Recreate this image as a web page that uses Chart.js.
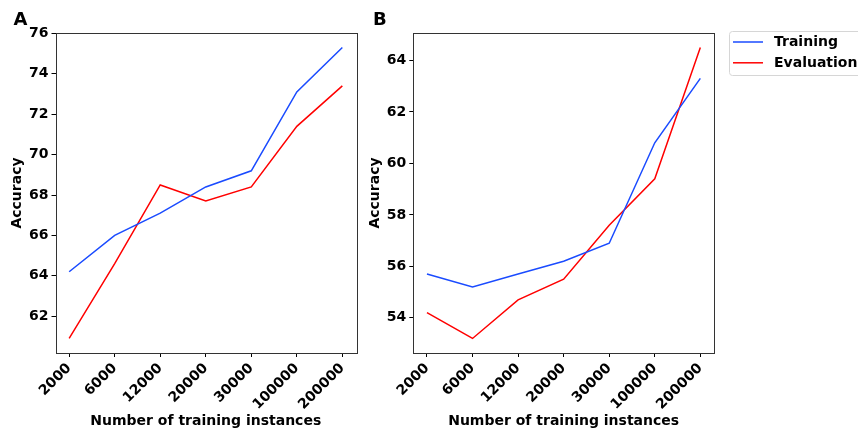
<!DOCTYPE html>
<html><head><meta charset="utf-8">
<script src="https://cdn.jsdelivr.net/npm/chart.js@4.4.1/dist/chart.umd.min.js"></script>
<style>
html,body{margin:0;padding:0;background:#fff;width:858px;height:431px;overflow:hidden}
canvas{position:absolute;top:0}
#panelA{left:0}
#panelB{left:360px}
</style></head><body>
<canvas id="panelA" width="400" height="431"></canvas>
<canvas id="panelB" width="498" height="431"></canvas>
<script>
// Training-set sizes along the x axis
const categories = ['2000', '6000', '12000', '20000', '30000', '100000', '200000'];
// Panel A accuracy
const trainingA   = [64.2, 66.0, 67.1, 68.4, 69.2, 73.1, 75.3];
const evaluationA = [60.9, 64.6, 68.5, 67.7, 68.4, 71.4, 73.4];
// Panel B accuracy
const trainingB   = [55.7, 55.2, 55.7, 56.2, 56.9, 60.8, 63.3];
const evaluationB = [54.2, 53.2, 54.7, 55.5, 57.6, 59.4, 64.5];
// Y tick labels
const yTicksA = [62, 64, 66, 68, 70, 72, 74, 76];
const yTicksB = [54, 56, 58, 60, 62, 64];
const seriesNames = ['Training', 'Evaluation'];

const BLUE = '#1a4bff';
const RED = '#ff0000';
const FONT = "'DejaVu Sans', sans-serif";
const FONT_SIZE = 14;
Chart.defaults.font.family = FONT;
Chart.defaults.color = '#000';

function points(values) {
  return values.map((v, i) => ({ x: i, y: v }));
}

// autoscale range with a 5% margin on each side
function paddedRange(values) {
  const lo = Math.min(...values), hi = Math.max(...values);
  const m = (hi - lo) * 0.05;
  return [lo - m, hi + m];
}

const framePlugin = {
  id: 'frame',
  afterDatasetsDraw(chart, args, opts) {
    const { ctx, chartArea: a } = chart;
    ctx.save();
    ctx.strokeStyle = '#333';
    ctx.lineWidth = 1;
    ctx.strokeRect(Math.round(a.left) + 0.5, Math.round(a.top) + 0.5,
                   Math.round(a.right - a.left), Math.round(a.bottom - a.top));
    ctx.restore();
  },
  afterDraw(chart, args, opts) {
    const ctx = chart.ctx;
    ctx.save();
    ctx.fillStyle = '#000';
    ctx.font = 'bold 18px ' + FONT;
    ctx.textAlign = 'left';
    ctx.textBaseline = 'alphabetic';
    ctx.fillText(opts.letter, opts.lx, 24.5);
    if (opts.legend) {
      const bx = 369.5, by = 31.5, bw = 140, bh = 44;
      ctx.strokeStyle = '#d6d6d6';
      ctx.lineWidth = 1;
      ctx.beginPath();
      ctx.roundRect(bx, by, bw, bh, 3);
      ctx.stroke();
      ctx.font = 'bold ' + FONT_SIZE + 'px ' + FONT;
      ctx.textBaseline = 'middle';
      chart.data.datasets.forEach((ds, i) => {
        const y = 42 + i * 20.8;
        ctx.strokeStyle = ds.borderColor;
        ctx.lineWidth = 1.5;
        ctx.beginPath();
        ctx.moveTo(373, y);
        ctx.lineTo(403, y);
        ctx.stroke();
        ctx.fillStyle = '#000';
        ctx.fillText(ds.label, 414, y + 0.5);
      });
    }
    ctx.restore();
  }
};

function makePanel(id, train, evalv, yTicks, cfg) {
  const [ymin, ymax] = paddedRange(train.concat(evalv));
  const tickFont = { family: FONT, size: FONT_SIZE, weight: 'bold' };
  return new Chart(document.getElementById(id), {
    type: 'line',
    data: {
      datasets: [
        { label: seriesNames[0], data: points(train), borderColor: BLUE, borderWidth: 1.5 },
        { label: seriesNames[1], data: points(evalv), borderColor: RED, borderWidth: 1.5 }
      ]
    },
    options: {
      responsive: false,
      animation: false,
      devicePixelRatio: 1,
      layout: { padding: cfg.padding },
      elements: { point: { radius: 0 }, line: { tension: 0 } },
      plugins: {
        legend: { display: false },
        tooltip: { enabled: false },
        frame: { letter: cfg.letter, lx: cfg.lx, legend: cfg.legend }
      },
      scales: {
        x: {
          type: 'linear',
          min: -0.3,
          max: categories.length - 1 + 0.3,
          afterBuildTicks: s => { s.ticks = categories.map((c, i) => ({ value: i })); },
          afterFit: s => { s.height = 77; },
          grid: { display: true, drawOnChartArea: false, drawTicks: true, tickLength: 4, tickColor: '#000', tickWidth: 1 },
          border: { display: false },
          ticks: {
            autoSkip: false, minRotation: 45, maxRotation: 45, padding: 3,
            font: tickFont,
            callback: v => categories[v]
          },
          title: { display: true, text: 'Number of training instances', font: tickFont, padding: { top: 4, bottom: 0 } }
        },
        y: {
          type: 'linear',
          min: ymin,
          max: ymax,
          afterBuildTicks: s => { s.ticks = yTicks.map(v => ({ value: v })); },
          afterFit: s => { s.width = cfg.yWidth; },
          grid: { display: true, drawOnChartArea: false, drawTicks: true, tickLength: 4, tickColor: '#000', tickWidth: 1 },
          border: { display: false },
          ticks: { padding: 3, font: tickFont, callback: v => String(v) },
          title: { display: true, text: 'Accuracy', font: tickFont, padding: { top: 3, bottom: 4 } }
        }
      }
    },
    plugins: [framePlugin]
  });
}

makePanel('panelA', trainingA, evaluationA, yTicksA,
  { letter: 'A', lx: 13.5, legend: false, yWidth: 49.5, padding: { left: 6, top: 33, right: 44, bottom: 1 } });
makePanel('panelB', trainingB, evaluationB, yTicksB,
  { letter: 'B', lx: 13, legend: true, yWidth: 49.8, padding: { left: 3.5, top: 33, right: 144, bottom: 1 } });
</script>
</body></html>
